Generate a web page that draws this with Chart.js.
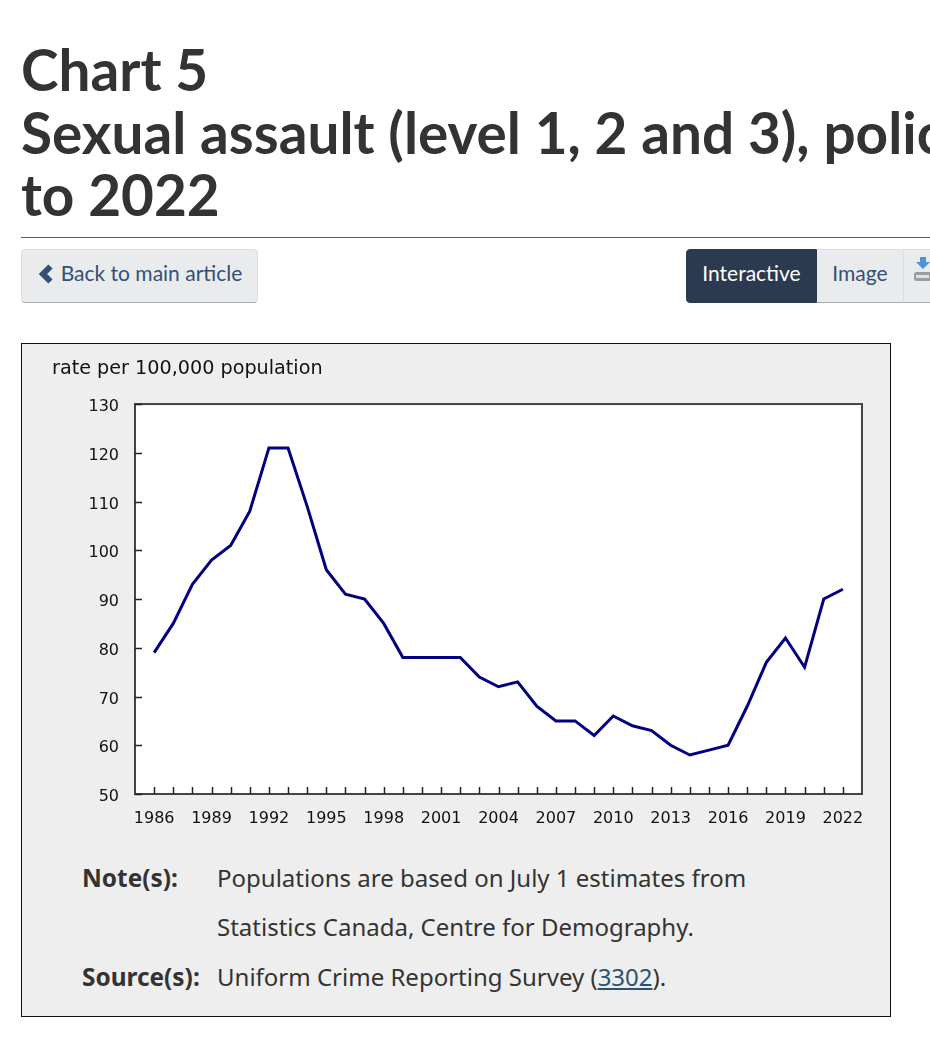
<!DOCTYPE html>
<html lang="en">
<head>
<meta charset="utf-8">
<title>Chart 5</title>
<script src="https://cdn.jsdelivr.net/npm/chart.js@4"></script>
<style>
  html, body { margin: 0; padding: 0; background: #fff; overflow: hidden; width: 930px; height: 1062px; }
  body { position: relative; }
  h1 {
    position: absolute; left: 21px; top: 38px; width: 909px; height: 190px; margin: 0; overflow: hidden;
    font: 700 56.7px/62.5px Lato, sans-serif; color: #333; white-space: nowrap;
  }
  .rule { position: absolute; left: 21px; top: 237px; width: 909px; height: 1px; background: #98494d; }
  .btn {
    position: absolute; top: 249px; height: 54px; box-sizing: border-box;
    background: #eaebed; border: 1px solid #dcdee1; border-bottom: 1px solid #a9acb0;
    font: 400 21px/46px Lato, sans-serif; color: #335075; text-align: center;
  }
  #back { left: 21px; width: 237px; border-radius: 4px; padding-left: 24px; }
  #back svg { position: absolute; left: 16px; top: 14px; }
  #interactive { left: 686px; width: 131px; background: #2b3a4e; border-color: #2b3a4e; color: #fff; border-radius: 4px 0 0 4px; }
  #image { left: 817px; width: 87px; border-left: 0; }
  #download { left: 903px; width: 40px; }
  #download svg { position: absolute; left: 9px; top: 6px; }
  #panel { position: absolute; left: 21px; top: 343px; width: 870px; height: 674px; box-sizing: border-box; background: #eee; border: 1px solid #111; }
  #chart { position: absolute; left: 0; top: 0; }
  .note { position: absolute; font: 400 24px/32px "Noto Sans", sans-serif; color: #333; white-space: nowrap; }
  .note b { font-weight: 700; font-size: 24.4px; }
  .note a { color: #295376; text-decoration: underline; }
</style>
</head>
<body>
<h1>Chart 5<br>Sexual assault (level 1, 2 and 3), police-reported<br>to 2022</h1>
<div class="rule"></div>

<div class="btn" id="back">
  <svg width="16" height="20" viewBox="0 0 16 20"><path d="M12.5 2.5 L5 10 L12.5 17.5" fill="none" stroke="#335075" stroke-width="6"/></svg>
  Back to main article
</div>
<div class="btn" id="interactive">Interactive</div>
<div class="btn" id="image">Image</div>
<div class="btn" id="download">
  <svg width="22" height="34" viewBox="0 0 22 34">
    <path d="M7 1 H13 V6 H17 L10 13 L3 6 H7 Z" fill="#4a94de"/>
    <rect x="1" y="16" width="17" height="9" rx="2.5" fill="#9a9da0"/>
    <rect x="3" y="19" width="13" height="3" fill="#dfe1e2"/>
  </svg>
</div>

<div id="panel">
  <canvas id="chart" width="868" height="490"></canvas>
  <div class="note" style="left:60px;top:518px"><b>Note(s):</b></div>
  <div class="note" style="left:195px;top:518px">Populations are based on July 1 estimates from</div>
  <div class="note" style="left:195px;top:567px">Statistics Canada, Centre for Demography.</div>
  <div class="note" style="left:60px;top:617px"><b>Source(s):</b></div>
  <div class="note" style="left:195px;top:617px">Uniform Crime Reporting Survey (<a>3302</a>).</div>
</div>

<script>
// yearly rates, 1986 to 2022
const years = [1986, 1987, 1988, 1989, 1990, 1991, 1992, 1993, 1994, 1995, 1996, 1997, 1998,
  1999, 2000, 2001, 2002, 2003, 2004, 2005, 2006, 2007, 2008, 2009, 2010, 2011, 2012, 2013,
  2014, 2015, 2016, 2017, 2018, 2019, 2020, 2021, 2022];
const rates = [79, 85, 93, 98, 101, 108, 121, 121, 109, 96, 91, 90, 85,
  78, 78, 78, 78, 74, 72, 73, 68, 65, 65, 62, 66, 64, 63, 60,
  58, 59, 60, 68, 77, 82, 76, 90, 92];
const labelledYears = [1986, 1989, 1992, 1995, 1998, 2001, 2004, 2007, 2010, 2013, 2016, 2019, 2022];
const AXIS_FONT = { family: '"DejaVu Sans", sans-serif', size: 16 };
const AXIS_COLOR = '#444';

// white plot background, closed frame and the inward tick marks
const plotFrame = {
  id: 'plotFrame',
  beforeDraw(chart) {
    const a = chart.chartArea;
    chart.ctx.fillStyle = '#fff';
    chart.ctx.fillRect(a.left, a.top, a.width, a.height);
  },
  afterDraw(chart) {
    const { ctx, chartArea: a, scales } = chart;
    ctx.save();
    ctx.strokeStyle = AXIS_COLOR;
    ctx.lineWidth = 2;
    ctx.strokeRect(a.left, a.top, a.width, a.height);
    ctx.lineWidth = 1.5;
    ctx.strokeStyle = '#222';
    ctx.beginPath();
    scales.x.ticks.forEach(t => {
      const x = Math.round(scales.x.getPixelForValue(t.value)) + 0.5;
      ctx.moveTo(x, a.bottom);
      ctx.lineTo(x, a.bottom - 7);
    });
    scales.y.ticks.forEach(t => {
      const y = Math.round(scales.y.getPixelForValue(t.value)) + 0.5;
      ctx.moveTo(a.left, y);
      ctx.lineTo(a.left + 7, y);
    });
    ctx.stroke();
    ctx.restore();
  }
};

new Chart(document.getElementById('chart'), {
  type: 'line',
  data: {
    datasets: [{
      label: 'rate per 100,000 population',
      data: years.map((y, i) => ({ x: y, y: rates[i] })),
      borderColor: '#000080',
      borderWidth: 3,
      pointRadius: 0,
      tension: 0,
      borderJoinStyle: 'miter'
    }]
  },
  plugins: [plotFrame],
  options: {
    responsive: false,
    animation: false,
    layout: { padding: { left: 30, right: 28, top: 0, bottom: 0 } },
    plugins: {
      legend: { display: false },
      tooltip: { enabled: false },
      title: {
        display: true,
        text: 'rate per 100,000 population',
        align: 'start',
        color: '#111',
        font: { family: AXIS_FONT.family, size: 19.2, weight: 'normal' },
        padding: { top: 13, bottom: 24 }
      }
    },
    scales: {
      x: {
        type: 'linear',
        min: 1985,
        max: 2023,
        grid: { display: false, drawTicks: false },
        border: { display: false },
        afterBuildTicks: scale => { scale.ticks = years.map(v => ({ value: v })); },
        afterFit: scale => { scale.height = 40; },
        ticks: {
          autoSkip: false,
          maxRotation: 0,
          padding: 15,
          color: '#111',
          font: AXIS_FONT,
          callback: v => labelledYears.includes(v) ? String(v) : ''
        }
      },
      y: {
        min: 50,
        max: 130,
        grid: { display: false, drawTicks: false },
        border: { display: false },
        afterFit: scale => { scale.width = 83; },
        ticks: { stepSize: 10, padding: 16, labelOffset: 3, color: '#111', font: AXIS_FONT }
      }
    }
  }
});
</script>
</body>
</html>
